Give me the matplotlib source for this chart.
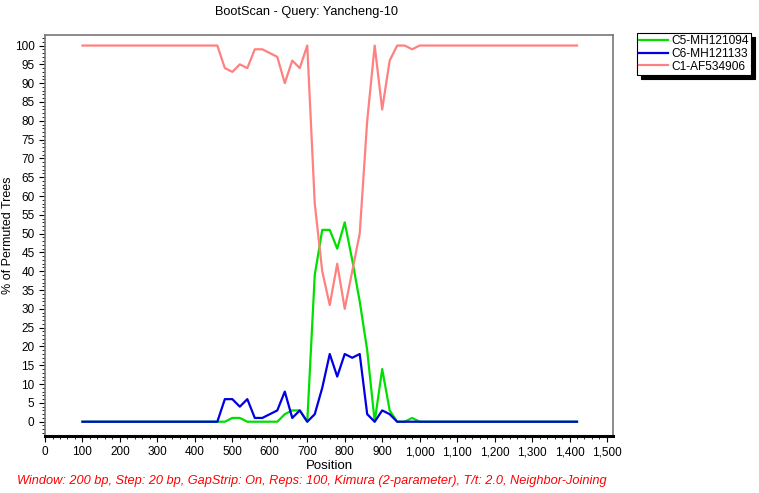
import matplotlib
matplotlib.use("Agg")
import matplotlib.pyplot as plt
from matplotlib.ticker import MultipleLocator, FuncFormatter

plt.rcParams["font.family"] = ["Liberation Sans", "DejaVu Sans"]

positions = list(range(100, 1421, 20))

# values read between 460 and 1000, everything else is flat
mid_pos = list(range(460, 1001, 20))
c5_mid = [0, 0, 1, 1, 0, 0, 0, 0, 0, 2, 3, 3, 0, 39, 51, 51, 46, 53, 43, 32, 19, 0, 14, 3, 0, 0, 1, 0]
c6_mid = [0, 6, 6, 4, 6, 1, 1, 2, 3, 8, 1, 3, 0, 2, 9, 18, 12, 18, 17, 18, 2, 0, 3, 2, 0, 0, 0, 0]
c1_mid = [100, 94, 93, 95, 94, 99, 99, 98, 97, 90, 96, 94, 100, 58, 40, 31, 42, 30, 40, 50, 80, 100, 83, 96, 100, 100, 99, 100]

series_names = ["C5-MH121094", "C6-MH121133", "C1-AF534906"]
series_colors = ["#00e000", "#0000e0", "#ff8080"]


def fill(mid, flat):
    vals = []
    for p in positions:
        if p in mid_pos:
            vals.append(mid[mid_pos.index(p)])
        else:
            vals.append(flat)
    return vals


c5 = fill(c5_mid, 0)
c6 = fill(c6_mid, 0)
c1 = fill(c1_mid, 100)

fig = plt.figure(figsize=(7.59, 4.93), dpi=100)
ax = fig.add_axes([0.0593, 0.1156, 0.7483, 0.8134])

lines = []
for vals, name, col in zip([c5, c6, c1], series_names, series_colors):
    ln, = ax.plot(positions, vals, color=col, lw=1.6, label=name)
    lines.append(ln)

ax.set_xlim(0, 1516)
ax.set_ylim(-3.8, 102.8)

ax.xaxis.set_minor_locator(MultipleLocator(20))
ax.yaxis.set_major_locator(MultipleLocator(5))
ax.yaxis.set_minor_locator(MultipleLocator(1))
ax.xaxis.set_major_formatter(FuncFormatter(lambda v, p: f"{int(v):,}"))
ax.yaxis.set_major_formatter(FuncFormatter(lambda v, p: f"{int(v)}"))
ax.set_xticks(range(0, 1501, 100))
ax.tick_params(which="major", direction="out", length=4, labelsize=8.5, width=0.8)
ax.tick_params(which="minor", direction="out", length=2, width=0.6)

for side in ["top", "left", "right"]:
    ax.spines[side].set_color("#777777")
    ax.spines[side].set_linewidth(1.2)
ax.spines["bottom"].set_color("black")
ax.spines["bottom"].set_linewidth(2.2)

ax.set_xlabel("Position", fontsize=9.5, labelpad=1)
fig.text(0.011, 0.523, "% of Permuted Trees", rotation=90, ha="center", va="center", fontsize=9)

fig.text(0.404, 0.987, "BootScan - Query: Yancheng-10", ha="center", va="top", fontsize=9.2)
fig.text(0.022, 0.0243, "Window: 200 bp, Step: 20 bp, GapStrip: On, Reps: 100, Kimura (2-parameter), T/t: 2.0, Neighbor-Joining",
         color="red", style="italic", fontsize=9.2, ha="left", va="center")

leg = ax.legend(handles=lines, loc="upper left", bbox_to_anchor=(0.839, 0.933),
                bbox_transform=fig.transFigure, fontsize=8.6, frameon=True,
                fancybox=False, edgecolor="black", handlelength=2.4,
                handletextpad=0.3, borderpad=0.2, borderaxespad=0,
                labelspacing=0.05,
                shadow={"ox": 3, "oy": -3, "color": "black", "alpha": 1})
leg.get_frame().set_linewidth(0.8)

fig.savefig("out.png", dpi=100)
